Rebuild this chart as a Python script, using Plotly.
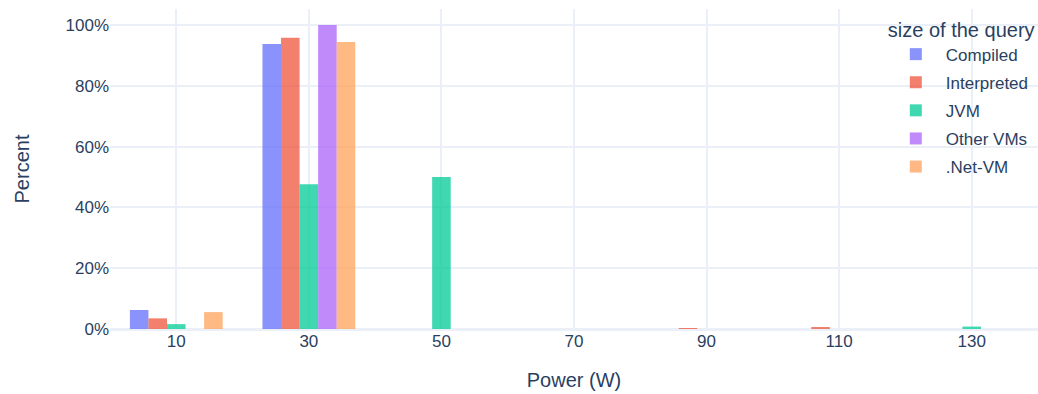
import plotly.graph_objects as go

bins = [10, 30, 50, 70, 90, 110, 130]
series_names = ["Compiled", "Interpreted", "JVM", "Other VMs", ".Net-VM"]
compiled = [6.25, 93.75, 0, 0, 0, 0, 0]
interpreted = [3.5, 95.8, 0, 0, 0.25, 0.45, 0]
jvm = [1.6, 47.6, 50.0, 0, 0, 0, 0.8]
other_vms = [0, 100.0, 0, 0, 0, 0, 0]
net_vm = [5.56, 94.44, 0, 0, 0, 0, 0]
colors = ["#636efa", "#EF553B", "#00cc96", "#ab63fa", "#FFA15A"]

fig = go.Figure()
for name, vals, c in zip(series_names, [compiled, interpreted, jvm, other_vms, net_vm], colors):
    fig.add_trace(go.Bar(x=bins, y=vals, name=name, marker_color=c, opacity=0.75,
                         marker_line_width=0, legendgroup=name))

grid = "#EBF0F8"
fig.update_layout(
    template="plotly_white",
    width=1038, height=394,
    barmode="group", bargap=0.3, bargroupgap=0,
    font=dict(family="Arial", size=17, color="#2a3f5f"),
    margin=dict(l=110, r=0, t=9, b=65),
    legend=dict(title=dict(text="size of the query", font=dict(size=20)),
                x=0.836, xanchor="left", y=0.995, yanchor="top",
                itemwidth=50, tracegroupgap=3,
                bgcolor="rgba(255,255,255,0)", font=dict(size=17)),
    xaxis=dict(title=dict(text="Power (W)", font=dict(size=20), standoff=22),
               range=[0, 140], tickvals=bins, automargin=False,
               gridcolor=grid, gridwidth=1.5),
    yaxis=dict(title=dict(text="Percent", font=dict(size=20), standoff=30),
               range=[0, 105.3], ticksuffix="%", dtick=20, automargin=False,
               gridcolor=grid, gridwidth=1.5, zerolinecolor=grid, zerolinewidth=2.5),
)
fig.write_html("out.html", config={"displayModeBar": False},
               post_script="document.body.style.margin='0px';")
